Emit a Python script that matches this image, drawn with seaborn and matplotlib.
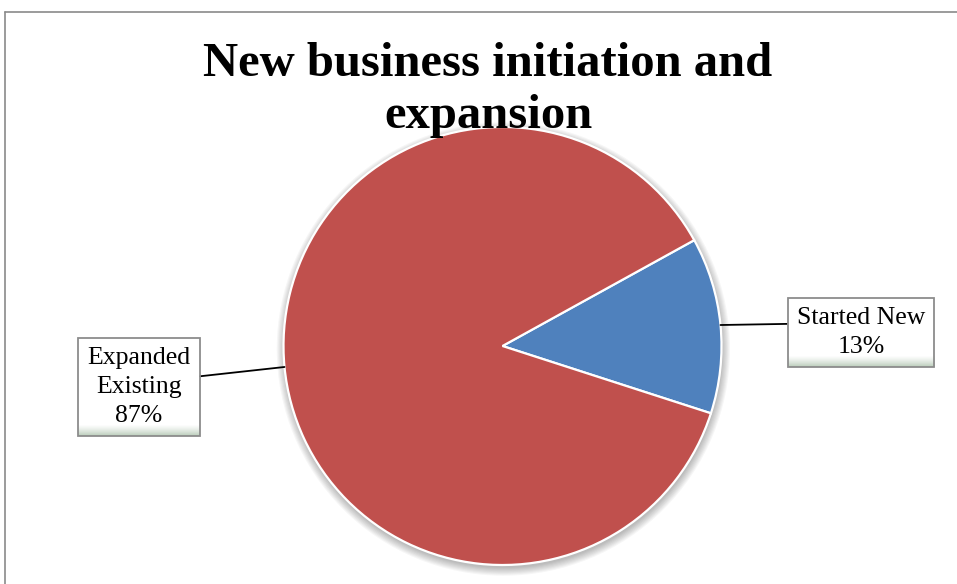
import matplotlib
matplotlib.use("Agg")
import numpy as np
import matplotlib.pyplot as plt
import seaborn as sns
from matplotlib.patches import Circle
from matplotlib.lines import Line2D

# Chart data
categories = ["Started New", "Expanded\nExisting"]
shares = [13, 87]
title_text = "New business initiation and\nexpansion"

sns.set_theme(style="white")
plt.rcParams["font.family"] = ["Liberation Serif", "DejaVu Serif"]
colors = sns.color_palette(["#4F81BD", "#C0504D"])

W, H, DPI = 957, 584, 100
fig = plt.figure(figsize=(W / DPI, H / DPI), dpi=DPI)
fig.patch.set_facecolor("white")

# Pie axes: a square box in pixel units
cx, cy, r = 502.5, 346.0, 219.0
ax = fig.add_axes([(cx - r) / W, (H - cy - r) / H, 2 * r / W, 2 * r / H])
ax.set_axis_off()

# Soft drop shadow under the pie
for i in range(8):
    ax.add_patch(Circle((0.004, -0.014), 1.0 + 0.005 * i, color="black",
                        alpha=0.035, lw=0, zorder=0, clip_on=False))

wedges, _ = ax.pie(shares, colors=colors, startangle=-17.9, counterclock=True,
                   radius=1.0,
                   wedgeprops=dict(edgecolor="white", linewidth=1.6, zorder=2))
for w in wedges:
    w.set_clip_on(False)
ax.set_xlim(-1, 1)
ax.set_ylim(-1, 1)

# Data labels in framed boxes with leader lines
label_pos = [(1.637, 0.062), (-1.66, -0.187)]
attach = [(0.0, 0.67), (1.0, 0.62)]
anns = []
for w, name, v, pos, rel in zip(wedges, categories, shares, label_pos, attach):
    mid = np.deg2rad((w.theta1 + w.theta2) / 2)
    xy = (np.cos(mid), np.sin(mid))
    ann = ax.annotate(f"{name}\n{v}%", xy=xy, xytext=pos, textcoords="data",
                      ha="center", va="center", fontsize=18.5, linespacing=1.42,
                      color="black",
                      bbox=dict(boxstyle="square,pad=0.36", fc="none",
                                ec="#8c8c8c", lw=1.3),
                      arrowprops=dict(arrowstyle="-", color="black", lw=1.3,
                                      shrinkA=0, shrinkB=0, relpos=rel),
                      annotation_clip=False, zorder=5)
    anns.append(ann)

# Chart title
fig.text(488 / W, 1 - 42 / H, title_text, ha="center", va="top",
         fontsize=35, fontweight="bold", linespacing=1.23, color="black")

# Chart area border (top and left edges)
edge = "#8a8a8a"
fig.add_artist(Line2D([4.5 / W, 4.5 / W], [0, 1 - 11.5 / H],
                      transform=fig.transFigure, color=edge, lw=1.2))
fig.add_artist(Line2D([4.5 / W, 1], [1 - 11.5 / H, 1 - 11.5 / H],
                      transform=fig.transFigure, color=edge, lw=1.2))

# White label backgrounds with a pale gradient at the bottom
fig.canvas.draw()
renderer = fig.canvas.get_renderer()
for ann in anns:
    ext = ann.get_bbox_patch().get_window_extent(renderer)
    x0, y0 = int(round(ext.x0)), int(round(ext.y0))
    bw, bh = int(round(ext.width)), int(round(ext.height))
    gh = 12
    t = np.zeros(bh)
    t[-gh:] = np.linspace(0, 1, gh) ** 1.3
    top = np.array([1.0, 1.0, 1.0])
    bot = np.array([0.74, 0.81, 0.74])
    arr = top[None, None, :] + (bot - top)[None, None, :] * t[:, None, None]
    arr = np.repeat(arr, bw, axis=1)
    fig.figimage(arr, xo=x0, yo=y0, origin="upper", zorder=-1)

fig.savefig("out.png", dpi=DPI)
